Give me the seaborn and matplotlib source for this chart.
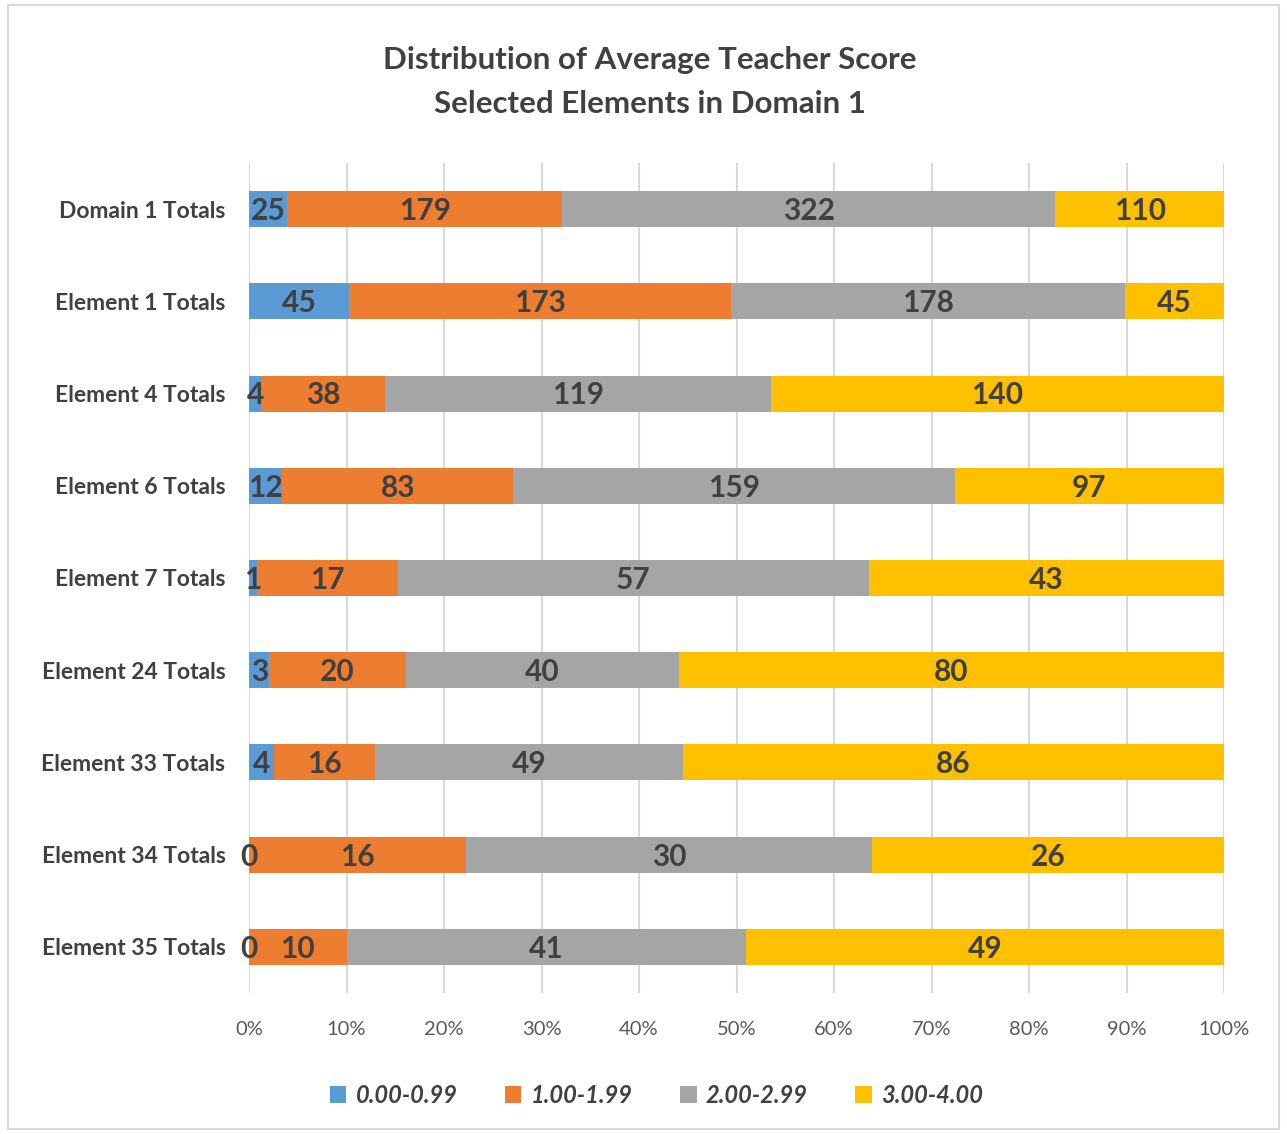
import matplotlib
matplotlib.use("Agg")
import matplotlib.pyplot as plt
import seaborn as sns
import pandas as pd
import numpy as np
from matplotlib.patches import Patch, Rectangle

categories = ["Domain 1 Totals", "Element 1 Totals", "Element 4 Totals", "Element 6 Totals",
              "Element 7 Totals", "Element 24 Totals", "Element 33 Totals", "Element 34 Totals",
              "Element 35 Totals"]
series_names = ["0.00-0.99", "1.00-1.99", "2.00-2.99", "3.00-4.00"]
s_000_099 = [25, 45, 4, 12, 1, 3, 4, 0, 0]
s_100_199 = [179, 173, 38, 83, 17, 20, 16, 16, 10]
s_200_299 = [322, 178, 119, 159, 57, 40, 49, 30, 41]
s_300_400 = [110, 45, 140, 97, 43, 80, 86, 26, 49]
x_ticks = [0, 10, 20, 30, 40, 50, 60, 70, 80, 90, 100]
colors = ["#5B9BD5", "#ED7D31", "#A5A5A5", "#FFC000"]

sns.set_theme(style="white")
plt.rcParams["font.family"] = ["Lato", "DejaVu Sans"]

counts = np.array([s_000_099, s_100_199, s_200_299, s_300_400], dtype=float)
pct = counts / counts.sum(axis=0) * 100
cum = np.cumsum(pct, axis=0)

fig = plt.figure(figsize=(12.87, 11.34), dpi=100)
ax = fig.add_axes([0.1935, 0.1243, 0.7576, 0.732])

# draw cumulative bars from the largest cumulative down (stacking trick)
for i in range(3, -1, -1):
    df = pd.DataFrame({"cat": categories, "val": cum[i]})
    sns.barplot(data=df, x="val", y="cat", color=colors[i], orient="h",
                width=0.39, saturation=1, ax=ax, linewidth=0, zorder=3)

# data labels
for i in range(4):
    starts = cum[i] - pct[i]
    for j, cat in enumerate(categories):
        xc = starts[j] + pct[i][j] / 2
        ax.text(xc, j + 0.02, f"{int(counts[i][j])}", ha="center", va="center",
                fontsize=21.5, fontweight="bold", color="#404040", zorder=5)

ax.set_xlim(0, 100)
ax.set_ylim(8.5, -0.5)
ax.set_xticks(x_ticks)
ax.set_xticklabels([f"{t}%" for t in x_ticks], fontsize=14.5, color="#595959")
ax.tick_params(axis="x", pad=20, length=0)
ax.tick_params(axis="y", pad=17, length=0)
for lab in ax.get_yticklabels():
    lab.set_fontsize(16.5)
    lab.set_color("#404040")
    lab.set_fontweight("bold")
ax.set_xlabel("")
ax.set_ylabel("")
ax.grid(axis="x", color="#D9D9D9", linewidth=1.5, zorder=0)
ax.set_axisbelow(True)
for s in ax.spines.values():
    s.set_visible(False)

fig.text(0.505, 0.947, "Distribution of Average Teacher Score", ha="center", va="center",
         fontsize=22.5, fontweight="bold", color="#404040")
fig.text(0.505, 0.908, "Selected Elements in Domain 1", ha="center", va="center",
         fontsize=22.5, fontweight="bold", color="#404040")

handles = [Patch(facecolor=c, edgecolor="none") for c in colors]
leg = fig.legend(handles, series_names, loc="center", bbox_to_anchor=(0.51, 0.034), ncol=4,
                 frameon=False, handlelength=0.7, handleheight=0.7, columnspacing=2.0,
                 handletextpad=0.4,
                 prop={"size": 17, "style": "italic", "weight": "bold"})
for t in leg.get_texts():
    t.set_color("#404040")

fig.patches.append(Rectangle((0.006, 0.004), 0.988, 0.992, transform=fig.transFigure,
                             fill=False, edgecolor="#D9D9D9", linewidth=1.5))

fig.savefig("out.png", dpi=100)
